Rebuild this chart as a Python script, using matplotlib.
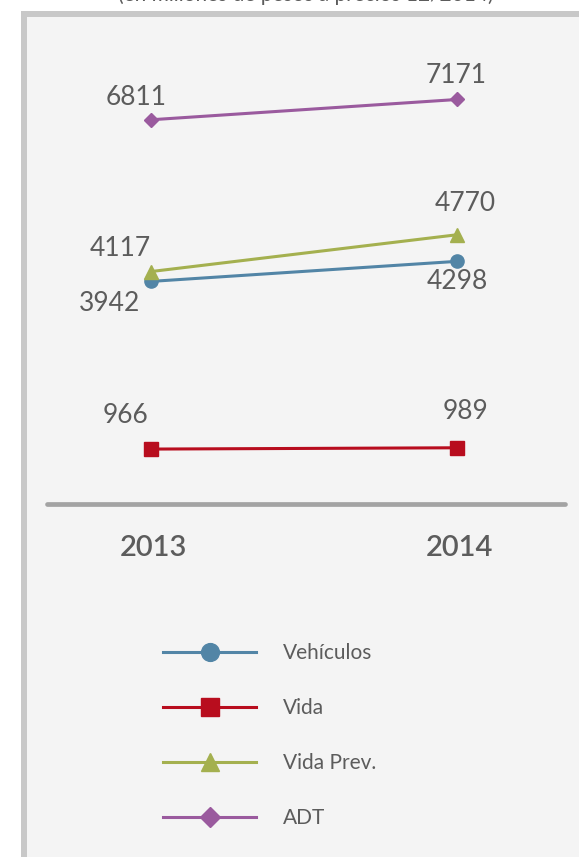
import matplotlib
matplotlib.use("Agg")
import matplotlib.pyplot as plt
from matplotlib.patches import Rectangle

# ---- data ----
years = [2013, 2014]
series_names = ["Vehículos", "Vida", "Vida Prev.", "ADT"]
vehiculos = [3942, 4298]
vida = [966, 989]
vida_prev = [4117, 4770]
adt = [6811, 7171]
subtitle = "(en millones de pesos a precios 12/2014)"

W, H, DPI = 579, 857, 100
plt.rcParams['font.family'] = ['Lato', 'DejaVu Sans']
TXT = "#5c5c5c"

fig = plt.figure(figsize=(W / DPI, H / DPI), dpi=DPI, facecolor="white")

# frame / panel background
fig.patches.append(Rectangle((24 / W, -0.1), 1.2, (H - 14) / H + 0.1,
                             transform=fig.transFigure, facecolor="#f4f4f4",
                             edgecolor="#c8c8c8", linewidth=6 * 72 / DPI, zorder=-5))

# cut-off subtitle at the very top
fig.text(306 / W, 1 - 1 / H, subtitle, ha="center", va="baseline",
         fontsize=15, color=TXT)

ax = fig.add_axes([0, 0, 1, 1], zorder=2)
ax.patch.set_alpha(0)
ax.axis("off")
px_per_year = 306.0
ax.set_xlim(2013 - 151 / px_per_year, 2014 + (W - 457) / px_per_year)
s = 0.05634
ax.set_ylim(-(H - 503.5) / s, 503.5 / s)

styles = [
    (vehiculos, "#5285a6", "o", 9.5),
    (vida, "#b80d1e", "s", 10),
    (vida_prev, "#a4b04f", "^", 10),
    (adt, "#9a5a9e", "D", 7.5),
]
handles = []
for (vals, col, mk, ms), name in zip(styles, series_names):
    h, = ax.plot(years, vals, color=col, marker=mk, markersize=ms,
                 linewidth=2.2, label=name, zorder=3)
    handles.append(h)

# baseline
ax.axhline(0, xmin=47 / W, xmax=565 / W, color="#a3a3a3", linewidth=3.4,
           solid_capstyle="round", zorder=2)

# value labels (offsets in pixels)
label_offsets = {
    "Vehículos": [(-41, -22), (0, -20)],
    "Vida": [(-26, 34), (8, 36)],
    "Vida Prev.": [(-31, 23), (8, 31)],
    "ADT": [(-15, 22), (-1, 24)],
}
for (vals, *_), name in zip(styles, series_names):
    for x, v, off in zip(years, vals, label_offsets[name]):
        ax.annotate(f"{v}", xy=(x, v), xytext=off, textcoords="offset pixels",
                    ha="center", va="center", fontsize=19, color=TXT)

# year labels
for x in years:
    ax.annotate(str(x), xy=(x, 0), xytext=(2, -45), textcoords="offset pixels",
                ha="center", va="center", fontsize=21, fontweight="semibold",
                color=TXT)

leg = fig.legend(handles=handles, loc="center left",
                 bbox_to_anchor=(163 / W, 1 - 735.5 / H),
                 frameon=False, fontsize=15, handlelength=4.47,
                 handletextpad=1.3, labelspacing=1.68, borderpad=0,
                 borderaxespad=0, markerscale=1.35, numpoints=1)
leg.set_zorder(3)
for t in leg.get_texts():
    t.set_color(TXT)

fig.savefig("out.png", dpi=DPI, facecolor="white")
